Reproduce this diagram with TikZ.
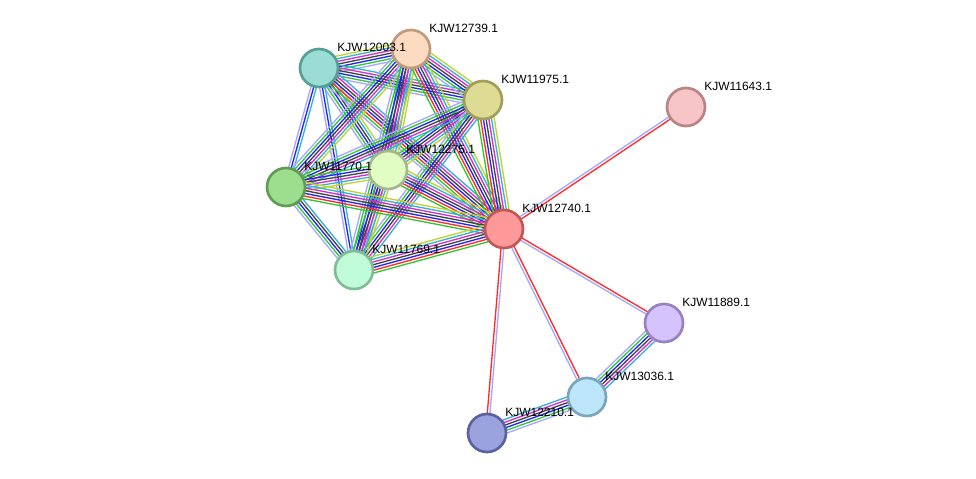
\documentclass[tikz,border=0pt]{standalone}
\usepackage{fontspec}
\setmainfont{Liberation Sans}
\usetikzlibrary{calc}
\pgfdeclarelayer{background}
\pgfsetlayers{background,main}
\definecolor{cLav}{HTML}{A8A8F8}
\definecolor{cGrn}{HTML}{33C633}
\definecolor{cRed}{HTML}{FF2A2A}
\definecolor{cBlu}{HTML}{2424F5}
\definecolor{cBlk}{HTML}{444444}
\definecolor{cMag}{HTML}{D22ED2}
\definecolor{cCya}{HTML}{33B4D4}
\definecolor{cYel}{HTML}{C0D42E}
\newcommand\edgecount{0}
\newcommand\edgebundle[3]{%
  \xdef\edgecount{0}%
  \foreach \c in {#3}{\xdef\edgecount{\the\numexpr\edgecount+1\relax}}%
  \foreach \c [count=\i] in {#3}{%
    \pgfmathsetmacro\off{(\i-(\edgecount+1)/2)*2.7*0.75}%
    \draw[edgeline,\c] ($(#1)!\off pt!90:(#2)$) -- ($(#2)!\off pt!-90:(#1)$);
  }%
}
\tikzset{
  edgeline/.style={line width=1pt},
  prot/.style={circle, minimum size=28.5pt, inner sep=0pt, line width=2pt},
  lbl/.style={anchor=base west, inner sep=0pt, font=\fontsize{9}{10}\selectfont, text=black}
}
\begin{document}
\begin{tikzpicture}[x=0.75pt,y=-0.75pt]
\useasboundingbox (0,0) rectangle (976,479);
% nodes
\node[prot, fill={rgb,255:red,253;green,219;blue,192}, draw={rgb,255:red,190;green,155;blue,125}] (n12739) at (411,49) {};
\node[prot, fill={rgb,255:red,153;green,221;blue,212}, draw={rgb,255:red,88;green,158;blue,148}] (n12003) at (319,68) {};
\node[prot, fill={rgb,255:red,222;green,219;blue,148}, draw={rgb,255:red,160;green,158;blue,90}] (n11975) at (483,100) {};
\node[prot, fill={rgb,255:red,247;green,197;blue,197}, draw={rgb,255:red,184;green,132;blue,132}] (n11643) at (686,107) {};
\node[prot, fill={rgb,255:red,226;green,253;blue,196}, draw={rgb,255:red,163;green,185;blue,138}] (n12275) at (388,170) {};
\node[prot, fill={rgb,255:red,156;green,222;blue,142}, draw={rgb,255:red,94;green,158;blue,82}] (n11770) at (286,187) {};
\node[prot, fill={rgb,255:red,255;green,153;blue,153}, draw={rgb,255:red,192;green,88;blue,88}] (n12740) at (504,229) {};
\node[prot, fill={rgb,255:red,191;green,252;blue,215}, draw={rgb,255:red,127;green,188;blue,151}] (n11769) at (354,270) {};
\node[prot, fill={rgb,255:red,213;green,195;blue,253}, draw={rgb,255:red,152;green,130;blue,192}] (n11889) at (664,323) {};
\node[prot, fill={rgb,255:red,190;green,230;blue,250}, draw={rgb,255:red,122;green,165;blue,189}] (n13036) at (587,397) {};
\node[prot, fill={rgb,255:red,155;green,163;blue,222}, draw={rgb,255:red,90;green,98;blue,160}] (n12210) at (487,433) {};
% labels
\node[lbl] (l12739) at ($(n12739)+(18,-17)$) {KJW12739.1};
\node[lbl] (l12003) at ($(n12003)+(18,-17)$) {KJW12003.1};
\node[lbl] (l11975) at ($(n11975)+(18,-17)$) {KJW11975.1};
\node[lbl] (l11643) at ($(n11643)+(18,-17)$) {KJW11643.1};
\node[lbl] (l12275) at ($(n12275)+(18,-17)$) {KJW12275.1};
\node[lbl] (l11770) at ($(n11770)+(18,-17)$) {KJW11770.1};
\node[lbl] (l12740) at ($(n12740)+(18,-17)$) {KJW12740.1};
\node[lbl] (l11769) at ($(n11769)+(18,-17)$) {KJW11769.1};
\node[lbl] (l11889) at ($(n11889)+(18,-17)$) {KJW11889.1};
\node[lbl] (l13036) at ($(n13036)+(18,-17)$) {KJW13036.1};
\node[lbl] (l12210) at ($(n12210)+(18,-17)$) {KJW12210.1};
% edges
\begin{pgfonlayer}{background}
\fill[white] (0,0) rectangle (976,479);
\edgebundle{n12003}{n12739}{cLav,cGrn,cBlu,cBlk,cMag,cCya,cYel}
\edgebundle{n12003}{n11975}{cLav,cGrn,cBlu,cBlk,cMag,cCya}
\edgebundle{n12003}{n12275}{cLav,cGrn,cBlu,cBlk,cCya,cYel}
\edgebundle{n12003}{n11770}{cLav,cBlu,cCya}
\edgebundle{n12003}{n11769}{cLav,cBlu,cCya}
\edgebundle{n12003}{n12740}{cLav,cGrn,cRed,cBlu,cBlk,cMag,cCya}
\edgebundle{n12739}{n11975}{cLav,cGrn,cBlu,cBlk,cMag,cCya,cYel}
\edgebundle{n12739}{n12275}{cGrn,cBlu,cBlk,cMag,cCya,cYel}
\edgebundle{n12739}{n11770}{cLav,cGrn,cBlu,cBlk,cMag,cCya,cYel}
\edgebundle{n12739}{n11769}{cLav,cGrn,cBlu,cBlk,cMag,cCya,cYel}
\edgebundle{n12739}{n12740}{cGrn,cRed,cBlu,cBlk,cMag,cCya,cYel}
\edgebundle{n11975}{n12275}{cGrn,cBlu,cBlk,cMag,cCya,cYel}
\edgebundle{n11975}{n11770}{cLav,cGrn,cBlu,cBlk,cMag,cCya}
\edgebundle{n11975}{n11769}{cLav,cGrn,cBlu,cBlk,cMag,cCya}
\edgebundle{n11975}{n12740}{cGrn,cRed,cBlu,cBlk,cMag,cCya,cYel}
\edgebundle{n12275}{n11770}{cGrn,cBlu,cBlk,cMag,cCya,cYel}
\edgebundle{n12275}{n11769}{cGrn,cBlu,cBlk,cMag,cCya,cYel}
\edgebundle{n12275}{n12740}{cGrn,cRed,cBlu,cBlk,cMag,cCya,cYel}
\edgebundle{n11770}{n11769}{cLav,cGrn,cBlu,cBlk,cCya}
\edgebundle{n11770}{n12740}{cGrn,cRed,cBlu,cBlk,cMag,cCya,cYel}
\edgebundle{n11769}{n12740}{cGrn,cRed,cBlu,cBlk,cMag,cCya,cYel}
\edgebundle{n12740}{n11643}{cRed,cLav}
\edgebundle{n12740}{n11889}{cLav,cRed}
\edgebundle{n12740}{n13036}{cLav,cRed}
\edgebundle{n12740}{n12210}{cRed,cLav}
\edgebundle{n13036}{n11889}{cCya,cMag,cBlk,cBlu,cGrn,cLav}
\edgebundle{n12210}{n13036}{cLav,cGrn,cBlu,cBlk,cMag,cCya}
\end{pgfonlayer}
\end{tikzpicture}
\end{document}
